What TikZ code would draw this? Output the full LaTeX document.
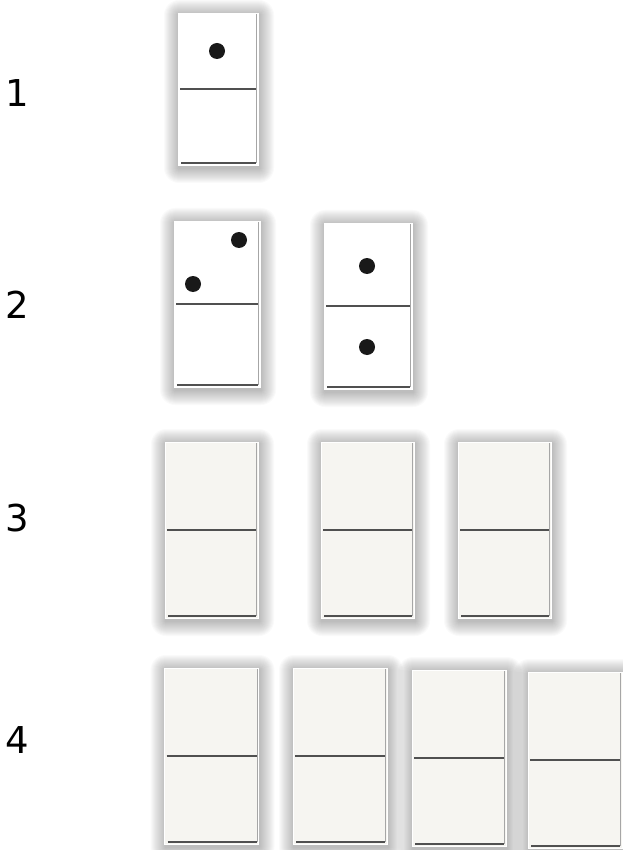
\documentclass[tikz,border=0pt]{standalone}
\usepackage{fontspec}
\newfontfamily\labelfont{DejaVu Sans}
\definecolor{tilecream}{RGB}{246,245,241}
\definecolor{linegray}{RGB}{80,80,80}

\tikzset{
  rowlabel/.style={font=\labelfont\fontsize{37}{37}\selectfont, inner sep=0pt},
  tile/.style={rectangle, draw=white, line width=0.8pt, inner sep=0pt, outer sep=0pt},
  divider/.style={linegray, line width=1.8pt},
  pip/.style={circle, fill=black!90, inner sep=0pt, minimum size=16pt}
}

% domino: name, centre x, centre y, width, height, fill
\newcommand{\domino}[6]{%
  \foreach \s in {1,...,15}
    \fill[black, opacity=0.02, rounded corners=\s]
      (#2-#4/2-\s+1, #3-#5/2-\s+2) rectangle (#2+#4/2+\s+1, #3+#5/2+\s+3);
  \node[tile, fill=#6, minimum width=#4, minimum height=#5] (#1) at (#2,#3) {};
  \draw[divider] ([xshift=2pt]#1.west) -- ([xshift=-2pt]#1.east);
  \draw[linegray, line width=1.4pt] ([xshift=3pt,yshift=2pt]#1.south west) -- ([xshift=-2pt,yshift=2pt]#1.south east);
  \draw[black!35, line width=1pt] ([xshift=-1.5pt,yshift=-1pt]#1.north east) -- ([xshift=-1.5pt,yshift=2pt]#1.south east);
}

\begin{document}
\begin{tikzpicture}[x=1pt, y=-1pt]
  \useasboundingbox (0,0) rectangle (622,850);

  % row numbers
  \foreach \n/\y in {1/93, 2/305, 3/518, 4/740}
    \node[rowlabel] (lab\n) at (17,\y) {\n};

  % row 1
  \domino{t11}{218}{89}{80}{152}{white}
  \node[pip] (p11) at (217,51) {};

  % row 2
  \domino{t21}{217}{304}{86}{166}{white}
  \domino{t22}{368}{306}{88}{166}{white}
  \node[pip] (p21) at (239,240) {};
  \node[pip] (p22) at (193,284) {};
  \node[pip] (p23) at (367,266) {};
  \node[pip] (p24) at (367,347) {};

  % row 3
  \foreach \i/\x in {1/211.5, 2/367.5, 3/504.5} {
    \domino{t3\i}{\x}{530}{93}{176}{tilecream}
  }

  % row 4
  \foreach \i/\x/\y in {1/211.5/756, 2/340/756, 3/459/758, 4/575/760} {
    \domino{t4\i}{\x}{\y}{94}{176}{tilecream}
  }
\end{tikzpicture}
\end{document}
